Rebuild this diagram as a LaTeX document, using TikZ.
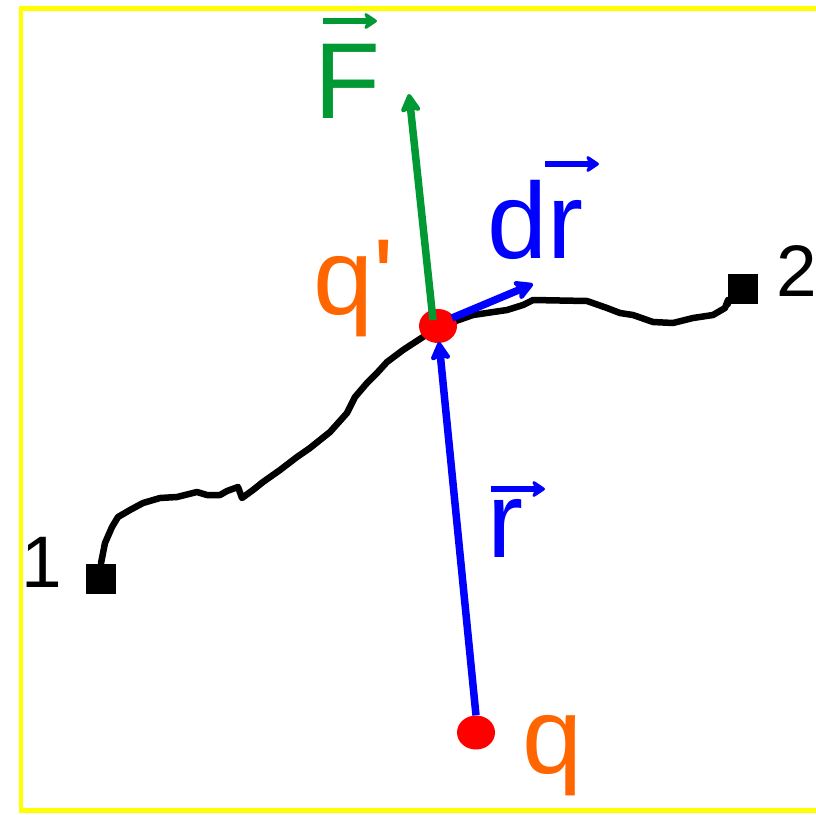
\documentclass[tikz,border=0pt]{standalone}
\usepackage{fontspec}
\newfontfamily\lab[Ligatures=ResetAll]{Liberation Sans}
\usetikzlibrary{arrows.meta,shapes.geometric}
\definecolor{myorange}{HTML}{FF6600}
\definecolor{mygreen}{HTML}{009933}
\definecolor{myyellow}{HTML}{FFFF00}
\definecolor{myblue}{HTML}{0000FF}
\definecolor{myred}{HTML}{FF0000}
\begin{document}
\begin{tikzpicture}[x=1pt,y=-1pt,
  big/.style={font=\lab\fontsize{108}{120}\selectfont, inner sep=0, anchor=base west},
  small/.style={font=\lab\fontsize{73}{80}\selectfont, inner sep=0, anchor=base west},
  vecarrow/.style={line width=7.5pt, -{Stealth[length=22pt,width=24pt,inset=5pt,round]}},
  overarrow/.style={line width=5.5pt, -{Stealth[length=15pt,width=20pt,inset=4pt,round]}},
  charge/.style={ellipse, fill=myred, draw=none, minimum width=38pt, minimum height=34pt, inner sep=0},
  endpt/.style={rectangle, fill=black, draw=none, minimum size=30pt, inner sep=0},
  pathline/.style={line width=6.5pt, line join=round, line cap=round, black}]
\useasboundingbox (0,0) rectangle (816,814);
\draw[myyellow, line width=4.5pt] (820,8.5) -- (21,8.5) -- (21,810.5) -- (820,810.5);

% end points
\node[endpt] (s1) at (101,578.5) {};
\node[endpt] (s2) at (743,289) {};
\node[small] (l1) at (21,587) {1};
\node[small] (l2) at (776,296) {2};

% path
\draw[pathline] (s1.north) -- (105,543) -- (112,527) -- (118,517) -- (130,510) -- (143,503)
  -- (160,498) -- (177,497) -- (197,492) -- (207,495) -- (220,495) -- (227,491) -- (238,487)
  -- (242,498) -- (253,490) -- (263,482) -- (280,470) -- (297,457) -- (310,448) -- (330,432)
  -- (347,413) -- (355,397) -- (367,383) -- (377,373) -- (387,362) -- (403,350) -- (423,337)
  -- (438,326) -- (450,323) -- (473,315) -- (507,310) -- (523,305) -- (533,300) -- (587,301)
  -- (607,308) -- (620,313) -- (633,315) -- (653,322) -- (673,323) -- (693,318) -- (713,315)
  -- (725,308) -- (728,300) -- (s2.south west);

% charges
\node[charge] (qp) at (438,326) {};
\node[charge] (q) at (476,732.5) {};

% vectors
\coordinate (Ftip) at (409,94);
\coordinate (drtip) at (533,284);
\coordinate (rtip) at (439,342);
\draw[vecarrow, mygreen] (qp.center) ++(-5,-6) -- (Ftip);
\draw[vecarrow, myblue] (qp.center) ++(14,-8) -- (drtip);
\draw[vecarrow, myblue] (q.north) -- (rtip);

% labels
\node[big, text=mygreen] (lF) at (314,118) {F};
\node[big, text=myorange] (lqp) at (313,314) {q'};
\node[big, text=myblue] (ldr) at (487,258) {dr};
\node[big, text=myblue] (lr) at (487,557) {r};
\node[big, text=myorange] (lq) at (522,773) {q};

% over arrows
\coordinate (Fa) at (323,21);  \coordinate (Fb) at (377,21);
\coordinate (dra) at (545,164); \coordinate (drb) at (599,164);
\coordinate (ra) at (491,489); \coordinate (rb) at (545,489);
\draw[overarrow, mygreen] (Fa) -- (Fb);
\draw[overarrow, myblue] (dra) -- (drb);
\draw[overarrow, myblue] (ra) -- (rb);
\end{tikzpicture}
\end{document}
